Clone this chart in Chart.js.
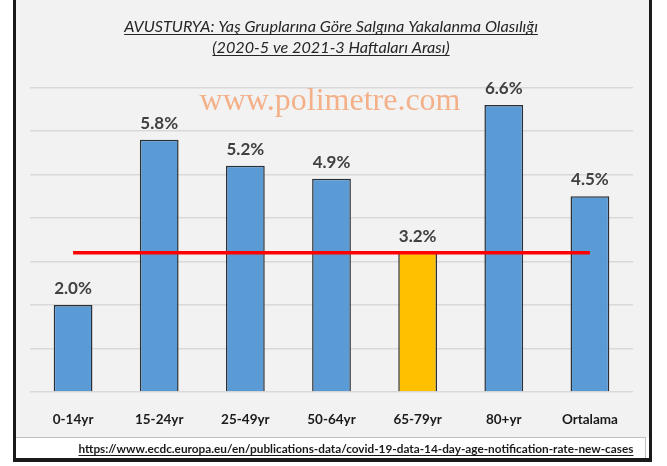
<!DOCTYPE html>
<html>
<head>
<meta charset="utf-8">
<script src="https://cdn.jsdelivr.net/npm/chart.js@4.4.1/dist/chart.umd.min.js"></script>
<style>
html,body{margin:0;padding:0;background:#fff;}
#wrap{width:667px;height:466px;position:relative;}
</style>
</head>
<body>
<div id="wrap"><canvas id="c"></canvas></div>
<script>
const categories = ['0-14yr','15-24yr','25-49yr','50-64yr','65-79yr','80+yr','Ortalama'];
const values = [2.0, 5.8, 5.2, 4.9, 3.2, 6.6, 4.5];
const referenceLine = [3.2, 3.2, 3.2, 3.2, 3.2, 3.2, 3.2];
const barColors = ['#5B9BD5','#5B9BD5','#5B9BD5','#5B9BD5','#FFC000','#5B9BD5','#5B9BD5'];
const yMin = 0, yMax = 7, yStep = 1;
const titleLines = ['AVUSTURYA: Yaş Gruplarına Göre Salgına Yakalanma Olasılığı', '(2020-5 ve 2021-3 Haftaları Arası)'];
const watermark = 'www.polimetre.com';
const sourceText = 'https://www.ecdc.europa.eu/en/publications-data/covid-19-data-14-day-age-notification-rate-new-cases';

function underlinedText(ctx, text, cx, y, color) {
  ctx.fillText(text, cx, y);
  const w = ctx.measureText(text).width;
  ctx.strokeStyle = color;
  ctx.lineWidth = 1;
  ctx.beginPath();
  ctx.moveTo(cx - w/2, y + 2.5);
  ctx.lineTo(cx + w/2, y + 2.5);
  ctx.stroke();
}

const framePlugin = {
  id: 'frame',
  beforeDraw(chart) {
    const ctx = chart.ctx;
    ctx.save();
    ctx.fillStyle = '#ffffff';
    ctx.fillRect(0, 0, 667, 466);
    ctx.fillStyle = '#F2F2F2';
    ctx.fillRect(15, 0, 635, 438);
    ctx.fillStyle = '#ffffff';
    ctx.fillRect(15, 438, 635, 20);
    ctx.strokeStyle = '#BFBFBF';
    ctx.lineWidth = 1;
    ctx.beginPath();
    ctx.moveTo(16, 437.5); ctx.lineTo(646, 437.5);
    ctx.moveTo(645.5, 437.5); ctx.lineTo(645.5, 458);
    ctx.stroke();
    ctx.fillStyle = '#1a1a1a';
    ctx.fillRect(13, 0, 3, 462);
    ctx.fillRect(649, 0, 3, 462);
    ctx.fillRect(13, 458, 639, 4);
    // title
    ctx.fillStyle = '#262626';
    ctx.font = 'italic 16.2px Lato';
    ctx.textAlign = 'center';
    ctx.textBaseline = 'alphabetic';
    underlinedText(ctx, titleLines[0], 331, 32, '#262626');
    underlinedText(ctx, titleLines[1], 331, 53, '#262626');
    // footer
    ctx.font = 'bold 11.8px Lato';
    ctx.fillStyle = '#1a1a1a';
    underlinedText(ctx, sourceText, 356, 453, '#1a1a1a');
    ctx.restore();
  },
  beforeDatasetsDraw(chart) {
    const ctx = chart.ctx;
    ctx.save();
    ctx.font = '32px "Liberation Serif", "Times New Roman", serif';
    ctx.fillStyle = 'rgba(244,160,110,0.8)';
    ctx.textAlign = 'center';
    ctx.textBaseline = 'alphabetic';
    ctx.fillText(watermark, 330, 110);
    ctx.restore();
  },
  afterDatasetsDraw(chart) {
    const ctx = chart.ctx;
    const meta = chart.getDatasetMeta(1);
    ctx.save();
    ctx.font = 'bold 17px Lato';
    ctx.fillStyle = '#404040';
    ctx.textAlign = 'center';
    ctx.textBaseline = 'alphabetic';
    meta.data.forEach((bar, i) => {
      ctx.fillText(values[i].toFixed(1) + '%', bar.x, bar.y - 11);
    });
    ctx.restore();
  }
};

new Chart(document.getElementById('c'), {
  data: {
    labels: categories,
    datasets: [
      {
        type: 'line',
        data: referenceLine,
        borderColor: '#FF0000',
        borderWidth: 3.5,
        pointRadius: 0,
        fill: false,
        order: 0
      },
      {
        type: 'bar',
        data: values,
        backgroundColor: barColors,
        borderColor: '#2B2F36',
        borderWidth: 1.5,
        categoryPercentage: 1,
        barPercentage: 0.45,
        order: 1
      }
    ]
  },
  options: {
    responsive: true,
    maintainAspectRatio: false,
    animation: false,
    layout: { padding: { left: 30, right: 34, top: 87.5, bottom: 34 } },
    plugins: { legend: { display: false }, tooltip: { enabled: false }, title: { display: false } },
    scales: {
      x: {
        grid: { display: false },
        border: { display: false },
        ticks: { color: '#1a1a1a', font: { family: 'Lato', weight: 'bold', size: 13.5 }, padding: 12, maxRotation: 0 },
        afterFit(s) { s.height = 40; }
      },
      y: {
        min: yMin, max: yMax,
        ticks: { display: false, stepSize: yStep },
        grid: { color: '#D9D9D9', lineWidth: 1.5, drawTicks: false },
        border: { display: false },
        afterFit(s) { s.width = 0; }
      }
    }
  },
  plugins: [framePlugin]
});
</script>
</body>
</html>
